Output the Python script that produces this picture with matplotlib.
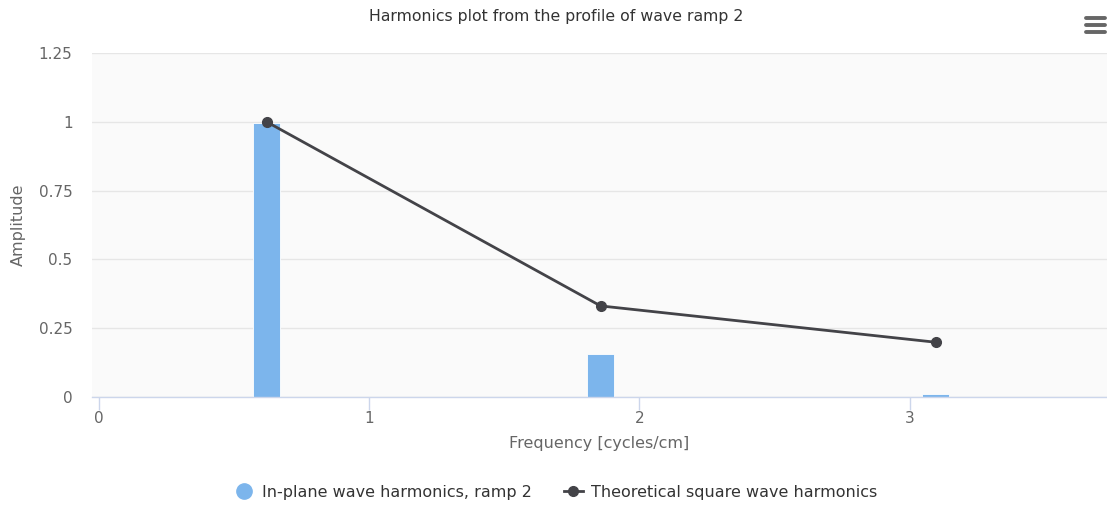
import numpy as np
import matplotlib.pyplot as plt
from matplotlib.lines import Line2D

# data
freq = [0.62, 1.856, 3.096]
measured = [0.995, 0.156, 0.01]
theoretical = [1.0, 0.331, 0.199]
yticks = [0, 0.25, 0.5, 0.75, 1, 1.25]
ytick_labels = ['0', '0.25', '0.5', '0.75', '1', '1.25']
xticks = [0, 1, 2, 3]

W, H = 1107, 508
fig = plt.figure(figsize=(W / 100, H / 100), dpi=100)
ax = fig.add_axes([92 / W, (H - 397) / H, (1107 - 92) / W, 344 / H])
ax.set_facecolor('#fafafa')

ax.bar(freq, measured, width=0.098, color='#7cb5ec', edgecolor='#ffffff',
       linewidth=0.6, zorder=2, label='In-plane wave harmonics, ramp 2')
ax.plot(freq, theoretical, color='#434348', lw=2, marker='o', ms=7,
        zorder=3, label='Theoretical square wave harmonics')

ax.set_xlim(-0.026, 3.73)
ax.set_ylim(0, 1.25)
ax.set_yticks(yticks)
ax.set_yticklabels(ytick_labels)
ax.set_xticks(xticks)
ax.grid(axis='y', color='#e6e6e6', lw=1, zorder=0)
ax.set_axisbelow(True)

for s in ['top', 'right', 'left']:
    ax.spines[s].set_visible(False)
ax.spines['bottom'].set_color('#ccd6eb')
ax.spines['bottom'].set_linewidth(1)

ax.tick_params(axis='y', length=0, pad=14, labelsize=11, labelcolor='#666666')
ax.tick_params(axis='x', length=9, width=1, color='#ccd6eb', pad=1,
               labelsize=11, labelcolor='#666666')

ax.set_xlabel('Frequency [cycles/cm]', fontsize=11.5, color='#666666', labelpad=7)
ax.set_ylabel('Amplitude', fontsize=11.5, color='#666666', labelpad=9)

fig.text(556 / W, 1 - 16 / H, 'Harmonics plot from the profile of wave ramp 2',
         ha='center', va='center', fontsize=11.3, color='#333333')

# legend
handles = [
    Line2D([], [], ls='none', marker='o', ms=11, color='#7cb5ec'),
    Line2D([], [], color='#434348', lw=2, marker='o', ms=7),
]
fig.legend(handles, ['In-plane wave harmonics, ramp 2', 'Theoretical square wave harmonics'],
           loc='center', bbox_to_anchor=(556 / W, 1 - 492 / H), ncol=2, frameon=False,
           fontsize=11.5, labelcolor='#333333', handlelength=1.2, columnspacing=2.0,
           handletextpad=0.5)

# menu icon
for yy in [17.7, 24.5, 31.5]:
    fig.add_artist(Line2D([1086 / W, 1105 / W], [1 - yy / H, 1 - yy / H],
                          color='#666666', lw=2.8, solid_capstyle='round'))

fig.savefig('out.png', dpi=100)
